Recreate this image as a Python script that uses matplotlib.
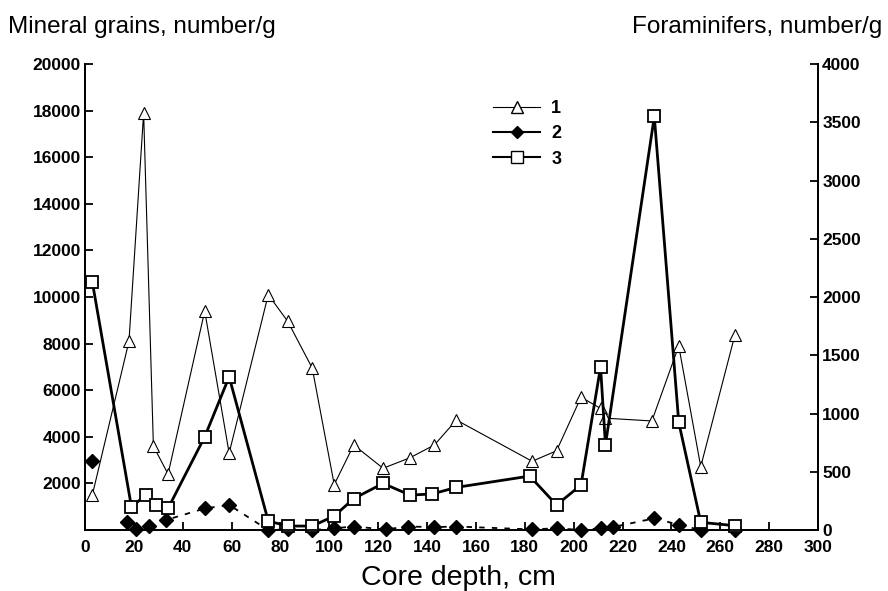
import matplotlib.pyplot as plt
from matplotlib.lines import Line2D

plt.rcParams['font.family'] = ['Liberation Sans', 'DejaVu Sans']

# series 1 - mineral grains (left axis)
depth1 = [3, 18, 24, 28, 34, 49, 59, 75, 83, 93, 102, 110, 122, 133, 143, 152, 183, 193, 203, 211, 213, 232, 243, 252, 266]
grains = [1500, 8100, 17900, 3600, 2400, 9400, 3300, 10100, 8950, 6950, 1950, 3650, 2650, 3100, 3650, 4720, 2950, 3400, 5700, 5220, 4800, 4680, 7900, 2720, 8380]

# series 2 - foraminifers (right axis)
depth2 = [3, 17, 21, 26, 33, 49, 59, 75, 83, 93, 102, 110, 123, 132, 143, 152, 183, 193, 203, 211, 216, 233, 243, 252, 266]
foram2 = [590, 70, 5, 35, 85, 185, 215, 0, 5, 0, 15, 30, 5, 30, 25, 30, 5, 15, 0, 15, 25, 100, 45, 0, 0]

# series 3 - foraminifers (right axis)
depth3 = [3, 19, 25, 29, 34, 49, 59, 75, 83, 93, 102, 110, 122, 133, 142, 152, 182, 193, 203, 211, 213, 233, 243, 252, 266]
foram3 = [2130, 200, 300, 215, 186, 800, 1315, 77, 34, 34, 120, 270, 400, 300, 309, 366, 463, 215, 386, 1400, 730, 3550, 924, 66, 37]

fig = plt.figure(figsize=(8.88, 5.91), dpi=100)
ax = fig.add_axes([0.0957, 0.1032, 0.8255, 0.7885])
ax2 = ax.twinx()

ax.plot(depth1, grains, color='black', lw=0.8, marker='^', ms=8, mfc='white', mec='black', mew=0.8, zorder=3)

# first point of series 2 is not joined to the rest
ax2.plot(depth2[1:], foram2[1:], color='black', lw=1.3, ls=(0, (3, 4)))
ax2.plot(depth2, foram2, color='black', ls='none', marker='D', ms=7.5, mfc='black', mec='black', clip_on=False)
ax2.plot(depth3, foram3, color='black', lw=2.0, marker='s', ms=8.5, mfc='white', mec='black', mew=1.3, clip_on=False)

ax.set_xlim(0, 300)
ax.set_ylim(0, 20000)
ax2.set_ylim(0, 4000)
ax.set_xticks(range(0, 301, 20))
ax.set_yticks(range(0, 20001, 2000))
ax.set_yticklabels([''] + [str(v) for v in range(2000, 20001, 2000)])
ax2.set_yticks(range(0, 4001, 500))

for a in (ax, ax2):
    a.spines['top'].set_visible(False)
    for s in a.spines.values():
        s.set_linewidth(1.3)
    a.tick_params(direction='in', length=6, width=1.3, labelsize=12.5)
    for lab in a.get_xticklabels() + a.get_yticklabels():
        lab.set_fontweight('bold')
ax.tick_params(axis='x', pad=7)
ax.tick_params(axis='y', pad=3)
ax2.tick_params(axis='y', pad=3)

handles = [
    Line2D([], [], color='black', lw=0.8, marker='^', ms=8, mfc='white', mec='black'),
    Line2D([], [], color='black', lw=1.5, marker='D', ms=6, mfc='black'),
    Line2D([], [], color='black', lw=1.5, marker='s', ms=8, mfc='white', mec='black'),
]
ax.legend(handles, ['1', '2', '3'], loc='upper left', bbox_to_anchor=(0.535, 0.957), frameon=False,
          handlelength=2.6, handletextpad=0.6, prop={'weight': 'bold', 'size': 13}, labelspacing=0.45)

fig.text(0.009, 0.944, 'Mineral grains, number/g', fontsize=17.5)
fig.text(0.994, 0.944, 'Foraminifers, number/g', fontsize=17.5, ha='right')
ax.set_xlabel('Core depth, cm', fontsize=20.5)
ax.xaxis.set_label_coords(0.51, -0.075)

fig.savefig('out.png', dpi=100)
